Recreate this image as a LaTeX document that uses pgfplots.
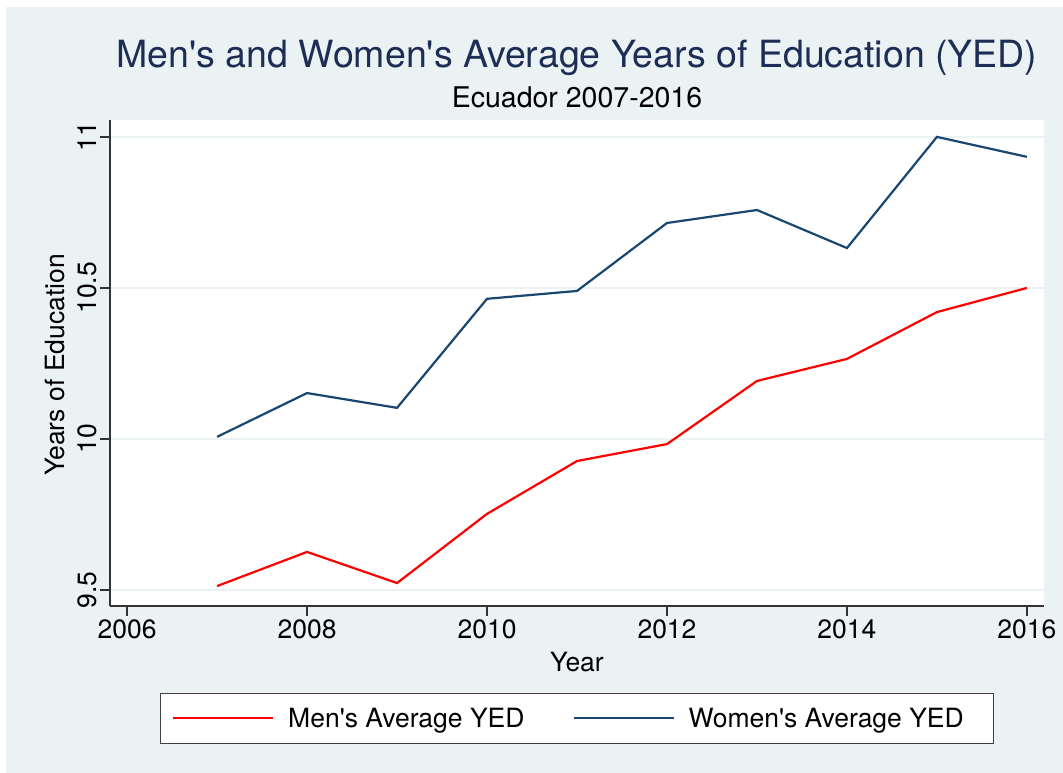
\documentclass[border=0pt]{standalone}
\usepackage{fontspec}
\setmainfont{TeX Gyre Heros}[Ligatures=TeXOff]
\usepackage{pgfplots}
\pgfplotsset{compat=1.18}

\definecolor{stbg}{HTML}{EAF2F3}
\definecolor{stnavy}{HTML}{1A476F}
\definecolor{sttitle}{HTML}{1E2D55}
\definecolor{stred}{HTML}{FF0000}
\newcommand{\lab}{\fontsize{26.5}{30}\selectfont}

\begin{document}
\begin{tikzpicture}
\useasboundingbox (0,0) rectangle (1063pt,773pt);
\fill[stbg] (0,0) rectangle (1063pt,773pt);
\fill[white] (0,766pt) rectangle (1063pt,773pt);
\fill[white] (0,0) rectangle (6pt,773pt);
\begin{axis}[
  at={(110pt,167pt)}, anchor=south west,
  scale only axis,
  width=934pt, height=486pt,
  xmin=2005.81, xmax=2016.19,
  ymin=9.447, ymax=11.056,
  axis background/.style={fill=white},
  axis x line*=bottom, axis y line*=left,
  axis line style={black!80, line width=1.3pt, -},
  xtick={2006,2008,...,2016},
  ytick={9.5,10,10.5,11},
  yticklabels={9.5,10,10.5,11},
  xticklabel style={/pgf/number format/1000 sep={}},
  /pgf/number format/assume math mode=true,
  tick label style={font=\lab, text=black},
  yticklabel style={rotate=90, anchor=south},
  tick align=outside, major tick length=10pt,
  tick style={black!80, line width=1.3pt},
  ymajorgrids, major grid style={stbg, line width=1.8pt},
  xlabel={Year}, ylabel={Years of Education},
  label style={font=\lab},
  xlabel style={at={(axis description cs:0.5,-0.115)}, anchor=center},
  ylabel style={at={(axis description cs:-0.059,0.496)}, anchor=center, rotate=0},
  legend columns=2,
  legend image code/.code={\draw[#1, line width=2pt] (0pt,0pt) -- (100pt,0pt);},
  legend style={at={(axis description cs:0.5,-0.179)}, anchor=north,
    draw=black!75, line width=1pt, fill=white, font=\lab,
    inner xsep=12pt, inner ysep=12.5pt,
    /tikz/every odd column/.append style={column sep=12pt},
    /tikz/every even column/.append style={column sep=46pt}},
  clip=false,
]
\addplot[stred, line width=2.2pt] coordinates {
  (2007,9.513) (2008,9.626) (2009,9.523) (2010,9.752) (2011,9.927)
  (2012,9.983) (2013,10.192) (2014,10.265) (2015,10.42) (2016,10.5)};
\addlegendentry{Men's Average YED}
\addplot[stnavy, line width=2.2pt] coordinates {
  (2007,10.007) (2008,10.152) (2009,10.103) (2010,10.464) (2011,10.49)
  (2012,10.715) (2013,10.758) (2014,10.632) (2015,11.0) (2016,10.934)};
\addlegendentry{Women's Average YED\rule{16pt}{0pt}}
\node[anchor=base, font=\fontsize{37.5}{42}\selectfont, text=sttitle]
  at (axis description cs:0.5,1.107) {Men's and Women's Average Years of Education (YED)};
\node[anchor=base, font=\fontsize{28.5}{32}\selectfont]
  at (axis description cs:0.5,1.0247) {Ecuador 2007-2016};
\end{axis}
\end{tikzpicture}
\end{document}
